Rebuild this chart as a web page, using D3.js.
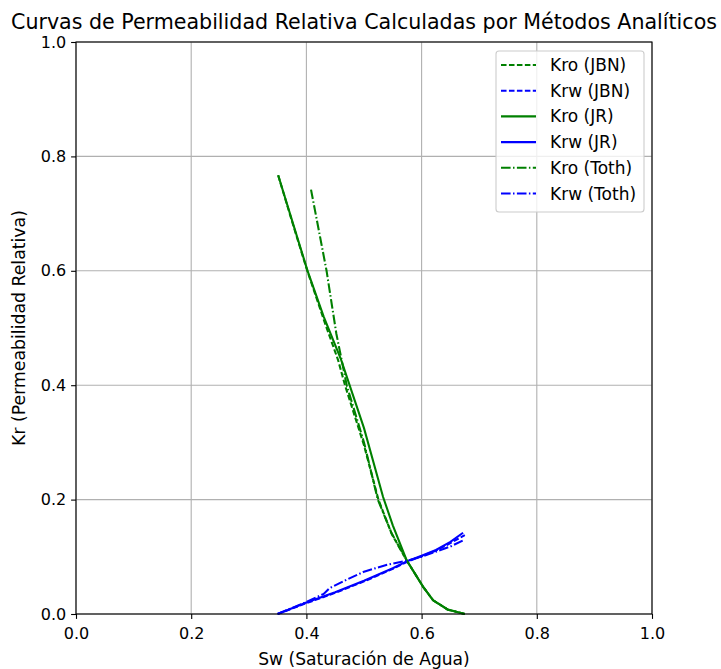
<!DOCTYPE html>
<html><head><meta charset="utf-8">
<script src="https://cdn.jsdelivr.net/npm/d3@7"></script>
<style>body{margin:0;background:#fff}svg{display:block;font-family:"DejaVu Sans",sans-serif}</style>
</head><body><div id="chart"></div>
<script>
const title = "Curvas de Permeabilidad Relativa Calculadas por Métodos Analíticos";
const xLabel = "Sw (Saturación de Agua)";
const yLabel = "Kr (Permeabilidad Relativa)";
const xTicks = [0, 0.2, 0.4, 0.6, 0.8, 1.0];
const yTicks = [0, 0.2, 0.4, 0.6, 0.8, 1.0];

// Kro / Krw values: [Sw, Kr]
const kroJBN = [[0.351,0.767],[0.377,0.68],[0.40,0.605],[0.43,0.515],[0.455,0.444],[0.467,0.40],[0.50,0.295],[0.525,0.20],[0.548,0.14],[0.574,0.094],[0.603,0.047],[0.62,0.024],[0.645,0.008],[0.675,0.0]];
const krwJBN = [[0.35,0.0],[0.40,0.019],[0.45,0.037],[0.50,0.057],[0.55,0.079],[0.574,0.091],[0.60,0.101],[0.625,0.111],[0.65,0.124],[0.675,0.138]];
const kroJR = [[0.351,0.767],[0.402,0.60],[0.43,0.52],[0.46,0.445],[0.50,0.325],[0.533,0.205],[0.55,0.155],[0.574,0.094],[0.603,0.047],[0.62,0.024],[0.645,0.008],[0.675,0.0]];
const krwJR = [[0.35,0.0],[0.40,0.02],[0.45,0.038],[0.50,0.058],[0.55,0.08],[0.574,0.092],[0.60,0.102],[0.625,0.112],[0.65,0.126],[0.672,0.142]];
const kroToth = [[0.408,0.742],[0.435,0.60],[0.452,0.49],[0.47,0.40],[0.50,0.30],[0.524,0.20],[0.548,0.141],[0.574,0.094],[0.603,0.047],[0.62,0.024],[0.645,0.008],[0.675,0.0]];
const krwToth = [[0.35,0.0],[0.40,0.021],[0.43,0.035],[0.44,0.045],[0.47,0.06],[0.50,0.074],[0.54,0.086],[0.574,0.093],[0.60,0.1],[0.625,0.109],[0.65,0.118],[0.675,0.13]];

const seriesNames = ["Kro (JBN)","Krw (JBN)","Kro (JR)","Krw (JR)","Kro (Toth)","Krw (Toth)"];
const seriesData = [kroJBN, krwJBN, kroJR, krwJR, kroToth, krwToth];
const seriesColors = ["#008000","#0000ff","#008000","#0000ff","#008000","#0000ff"];
const seriesDash = ["5.55,2.4","5.55,2.4",null,null,"9.6,2.4,1.5,2.4","9.6,2.4,1.5,2.4"];

const W = 721, H = 669;
const m = {left:76, right:652, top:42, bottom:614};
const svg = d3.select("#chart").append("svg").attr("width",W).attr("height",H);
const x = d3.scaleLinear().domain([0,1]).range([m.left,m.right]);
const y = d3.scaleLinear().domain([0,1]).range([m.bottom,m.top]);

// grid
svg.append("g").selectAll("line").data(xTicks).join("line")
  .attr("x1",d=>x(d)).attr("x2",d=>x(d)).attr("y1",m.top).attr("y2",m.bottom)
  .attr("stroke","#b0b0b0").attr("stroke-width",1.1);
svg.append("g").selectAll("line").data(yTicks).join("line")
  .attr("y1",d=>y(d)).attr("y2",d=>y(d)).attr("x1",m.left).attr("x2",m.right)
  .attr("stroke","#b0b0b0").attr("stroke-width",1.1);

// lines
const line = d3.line().x(d=>x(d[0])).y(d=>y(d[1]));
const plot = svg.append("g");
seriesData.forEach((s,i)=>{
  plot.append("path").datum(s).attr("d",line).attr("fill","none")
    .attr("stroke",seriesColors[i]).attr("stroke-width",2.08)
    .attr("stroke-dasharray",seriesDash[i]);
});

// axes
const fmt = d3.format(".1f");
const xAxis = svg.append("g").attr("transform",`translate(0,${m.bottom})`)
  .call(d3.axisBottom(x).tickValues(xTicks).tickFormat(fmt).tickSizeInner(4.9).tickSizeOuter(0).tickPadding(4.9));
const yAxis = svg.append("g").attr("transform",`translate(${m.left},0)`)
  .call(d3.axisLeft(y).tickValues(yTicks).tickFormat(fmt).tickSizeInner(4.9).tickSizeOuter(0).tickPadding(4.9));
[xAxis,yAxis].forEach(a=>{
  a.select(".domain").remove();
  a.selectAll("text").attr("font-family","DejaVu Sans").attr("font-size",16).attr("fill","#000");
  a.selectAll("line").attr("stroke","#000").attr("stroke-width",1.1);
});
xAxis.selectAll("text").attr("dy","0.95em");
// frame
svg.append("rect").attr("x",m.left).attr("y",m.top).attr("width",m.right-m.left).attr("height",m.bottom-m.top)
  .attr("fill","none").attr("stroke","#000").attr("stroke-width",1.1);

// labels
svg.append("text").attr("x",(m.left+m.right)/2).attr("y",29).attr("text-anchor","middle")
  .attr("font-size",20.6).text(title);
svg.append("text").attr("x",(m.left+m.right)/2).attr("y",665).attr("text-anchor","middle")
  .attr("font-size",17.1).text(xLabel);
svg.append("text").attr("transform",`translate(25,${(m.top+m.bottom)/2}) rotate(-90)`).attr("text-anchor","middle")
  .attr("font-size",17.3).text(yLabel);

// legend
const lg = svg.append("g");
lg.append("rect").attr("x",496).attr("y",51).attr("width",148).attr("height",161).attr("rx",3)
  .attr("fill","#fff").attr("fill-opacity",0.8).attr("stroke","#cccccc").attr("stroke-width",1.1);
seriesNames.forEach((n,i)=>{
  const yy = 65 + i*25.7;
  lg.append("line").attr("x1",501).attr("x2",536).attr("y1",yy).attr("y2",yy)
    .attr("stroke",seriesColors[i]).attr("stroke-width",2.08).attr("stroke-dasharray",seriesDash[i]);
  lg.append("text").attr("x",550).attr("y",yy+6).attr("font-size",17).text(n);
});
</script></body></html>
